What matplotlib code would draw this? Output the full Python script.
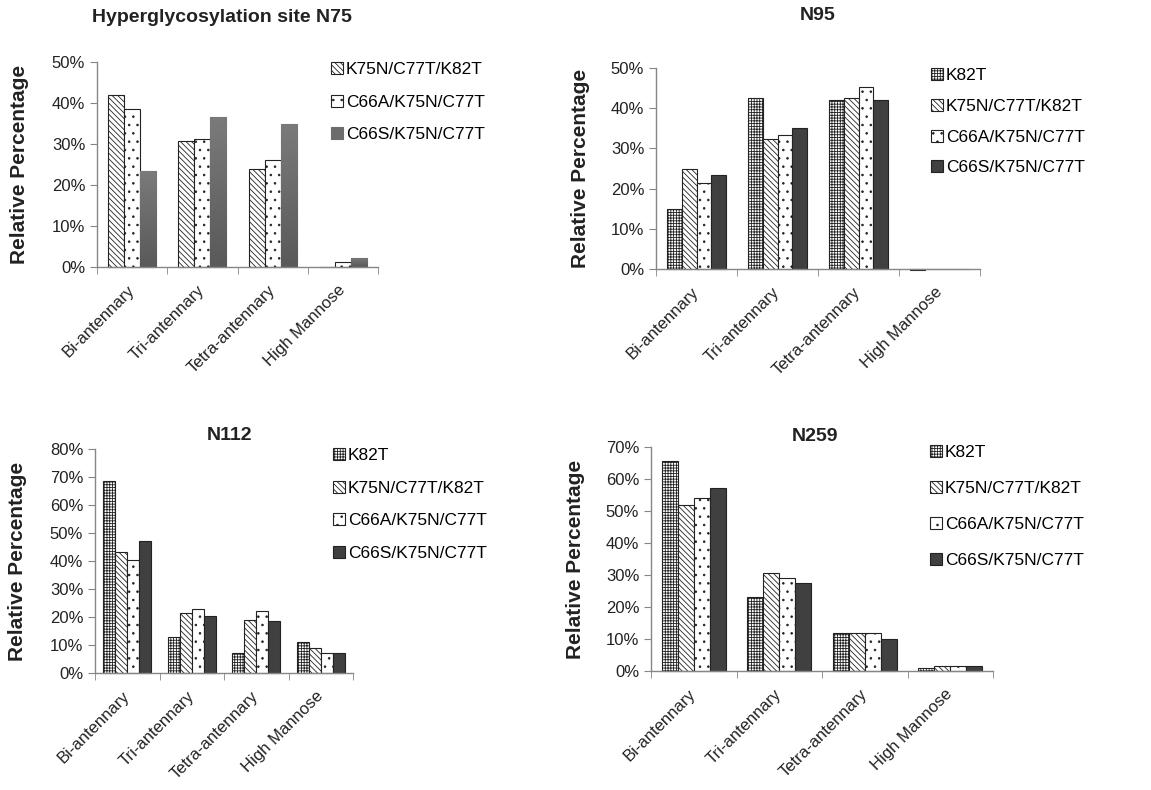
import matplotlib
matplotlib.use("Agg")
import matplotlib.pyplot as plt
import numpy as np
from matplotlib.ticker import PercentFormatter, FixedLocator

plt.rcParams['font.family'] = ['Liberation Sans', 'DejaVu Sans']
plt.rcParams['hatch.linewidth'] = 0.6

categories = ["Bi-antennary", "Tri-antennary", "Tetra-antennary", "High Mannose"]

# N75 (three mutants)
n75_series = ["K75N/C77T/K82T", "C66A/K75N/C77T", "C66S/K75N/C77T"]
n75_K75N = [42.0, 30.7, 23.8, 0.0]
n75_C66A = [38.5, 31.3, 26.0, 1.2]
n75_C66S = [23.5, 36.6, 35.0, 2.3]

# four-series panels
series4 = ["K82T", "K75N/C77T/K82T", "C66A/K75N/C77T", "C66S/K75N/C77T"]
n95_K82T = [15.0, 42.5, 42.0, -0.3]
n95_K75N = [25.0, 32.3, 42.5, 0.0]
n95_C66A = [21.5, 33.3, 45.2, 0.0]
n95_C66S = [23.5, 35.0, 42.0, 0.0]

n112_K82T = [68.5, 13.0, 7.2, 11.0]
n112_K75N = [43.3, 21.5, 19.0, 9.0]
n112_C66A = [40.5, 23.0, 22.0, 7.2]
n112_C66S = [47.0, 20.5, 18.6, 7.2]

n259_K82T = [65.5, 23.0, 12.0, 0.8]
n259_K75N = [52.0, 30.5, 11.8, 1.5]
n259_C66A = [54.2, 29.2, 12.0, 1.5]
n259_C66S = [57.2, 27.5, 10.0, 1.7]

titles = ["Hyperglycosylation site N75", "N95", "N112", "N259"]

styles = {
    "K82T": dict(facecolor="white", hatch="++++++", edgecolor="#222222"),
    "K75N/C77T/K82T": dict(facecolor="white", hatch="\\\\\\\\\\\\", edgecolor="#222222"),
    "C66A/K75N/C77T": dict(facecolor="white", hatch="..", edgecolor="#222222"),
    "C66S/K75N/C77T": dict(facecolor="#404040", edgecolor="#222222"),
}

W, H = 1151, 790
fig = plt.figure(figsize=(W / 100, H / 100), dpi=100)


def px_axes(x0, y0, x1, y1):
    return fig.add_axes([x0 / W, 1 - y1 / H, (x1 - x0) / W, (y1 - y0) / H])


panels = [
    dict(box=(97, 62, 378, 267), ymax=50, series=n75_series,
         data=[n75_K75N, n75_C66A, n75_C66S], bw=0.228,
         title_xy=(222, 17), ylab_x=29, leg_xy=(331, 62), leg_sp=1.0, n75=True),
    dict(box=(656, 68, 980, 269), ymax=50, series=series4,
         data=[n95_K82T, n95_K75N, n95_C66A, n95_C66S], bw=0.182,
         title_xy=(818, 15), ylab_x=590, leg_xy=(931, 68), leg_sp=0.9, n75=False),
    dict(box=(95, 449, 353, 673), ymax=80, series=series4,
         data=[n112_K82T, n112_K75N, n112_C66A, n112_C66S], bw=0.186,
         title_xy=(230, 435), ylab_x=27, leg_xy=(333, 448), leg_sp=1.0, n75=False),
    dict(box=(651, 447, 993, 671), ymax=70, series=series4,
         data=[n259_K82T, n259_K75N, n259_C66A, n259_C66S], bw=0.187,
         title_xy=(815, 437), ylab_x=585, leg_xy=(930, 445), leg_sp=1.2, n75=False),
]

axis_gray = "#868686"
grad = np.linspace(0.48, 0.35, 64).reshape(-1, 1)

for p, title in zip(panels, titles):
    ax = px_axes(*p["box"])
    x = np.arange(len(categories))
    n = len(p["series"])
    bw = p["bw"]
    handles = []
    for i, (name, vals) in enumerate(zip(p["series"], p["data"])):
        st = dict(styles[name])
        gradient = p["n75"] and name == "C66S/K75N/C77T"
        if gradient:
            st = dict(facecolor="#6c6c6c", edgecolor="#6c6c6c")
        offs = (i - (n - 1) / 2) * bw
        b = ax.bar(x + offs, vals, width=bw, linewidth=0.8, label=name,
                   clip_on=False, **st)
        if gradient:
            for rect in b:
                h = rect.get_height()
                if h <= 0:
                    continue
                im = ax.imshow(grad, cmap="gray", vmin=0, vmax=1,
                               extent=(rect.get_x(), rect.get_x() + rect.get_width(), 0, h),
                               aspect="auto", origin="upper", zorder=rect.get_zorder() + 0.1)
                im.set_clip_path(rect)
        handles.append(b)
    ax.set_xlim(-0.5, len(categories) - 0.5)
    ax.set_ylim(0, p["ymax"])
    ax.set_yticks(np.arange(0, p["ymax"] + 1, 10))
    ax.yaxis.set_major_formatter(PercentFormatter(xmax=100, decimals=0))
    ax.set_xticks(x)
    ax.set_xticklabels(categories, rotation=45, ha="right", va="center",
                       rotation_mode="anchor", fontsize=12, color="#222222")
    ax.xaxis.set_minor_locator(FixedLocator(np.arange(-0.5, len(categories), 1.0)))
    ax.tick_params(axis="x", which="major", length=0, pad=15)
    ax.tick_params(axis="x", which="minor", length=5, color=axis_gray, direction="out")
    ax.tick_params(axis="y", length=5, color=axis_gray, direction="out",
                   labelsize=12, labelcolor="#222222")
    for s in ("top", "right"):
        ax.spines[s].set_visible(False)
    for s in ("left", "bottom"):
        ax.spines[s].set_color(axis_gray)
        ax.spines[s].set_linewidth(1.0)
    ax.set_ylabel("Relative Percentage", fontsize=15, fontweight="bold", color="#222222")
    x0, y0, x1, y1 = p["box"]
    ax.yaxis.set_label_coords(p["ylab_x"] / W, 1 - (y0 + y1) / 2 / H,
                              transform=fig.transFigure)
    fig.text(p["title_xy"][0] / W, 1 - p["title_xy"][1] / H, title, fontsize=14,
             fontweight="bold", ha="center", va="center", color="#222222")
    ax.legend(handles=handles, loc="upper left",
              bbox_to_anchor=(p["leg_xy"][0] / W, 1 - p["leg_xy"][1] / H),
              bbox_transform=fig.transFigure, frameon=False, fontsize=12.5,
              handlelength=0.7, handleheight=0.7, handletextpad=0.15,
              labelspacing=p["leg_sp"], borderpad=0, borderaxespad=0)

fig.savefig("out.png", dpi=100)
